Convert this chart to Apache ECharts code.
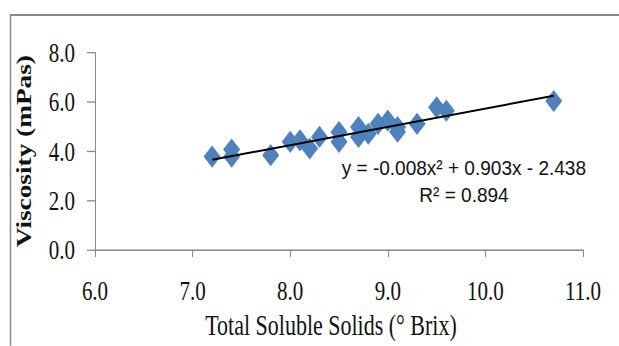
<!DOCTYPE html>
<html>
<head>
<meta charset="utf-8">
<script src="https://cdn.jsdelivr.net/npm/echarts@6/dist/echarts.min.js"></script>
<style>
html,body{margin:0;padding:0;background:#fff;overflow:hidden}
#wrap{width:619px;height:346px;overflow:hidden}
#c{width:619px;height:266.15px;transform:scaleY(1.3);transform-origin:0 0}
</style>
</head>
<body>
<div id="wrap"><div id="c"></div></div>
<script>
var brix = [7.2, 7.4, 7.4, 7.8, 8.0, 8.1, 8.2, 8.3, 8.5, 8.5, 8.7, 8.7, 8.8, 8.9, 9.0, 9.1, 9.1, 9.3, 9.5, 9.6, 10.7];
var viscosity = [3.78, 4.07, 3.78, 3.84, 4.38, 4.44, 4.11, 4.58, 4.78, 4.38, 4.98, 4.58, 4.71, 5.11, 5.24, 4.98, 4.79, 5.11, 5.78, 5.64, 6.04];
var trendX = [7.2, 10.7];
var trendY = [3.65, 6.25];
var xTicks = ['6.0', '7.0', '8.0', '9.0', '10.0', '11.0'];
var yTicks = ['0.0', '2.0', '4.0', '6.0', '8.0'];
var equationText = 'y = -0.008x² + 0.903x - 2.438';
var r2Text = 'R² = 0.894';
var xTitle = 'Total Soluble Solids (° Brix)';
var yTitle = 'Viscosity (mPas)';

var chart = echarts.init(document.getElementById('c'), null, {renderer: 'svg'});
var serif = 'Liberation Serif';
chart.setOption({
  animation: false,
  backgroundColor: '#fff',
  grid: {left: 95, right: 36, top: 40.5, bottom: 71.5, containLabel: false},
  xAxis: {
    type: 'value', min: 6, max: 11, interval: 1,
    name: xTitle, nameLocation: 'middle', nameGap: 36,
    nameTextStyle: {fontFamily: serif, fontSize: 22, color: '#111', padding: [0, 16, 0, 0]},
    axisLine: {show: true, lineStyle: {color: '#888', width: 1}},
    axisTick: {show: true, length: 5.5, lineStyle: {color: '#888'}},
    splitLine: {show: false},
    axisLabel: {fontFamily: serif, fontSize: 21, color: '#111', margin: 21,
      formatter: function (v) { return xTicks[Math.round(v - 6)]; }}
  },
  yAxis: {
    type: 'value', min: 0, max: 8, interval: 2,
    name: yTitle, nameLocation: 'middle', nameGap: 61,
    nameTextStyle: {fontFamily: serif, fontSize: 21, fontWeight: 'bold', color: '#111', padding: [0, 0, 0, 0]},
    axisLine: {show: true, lineStyle: {color: '#888', width: 1}},
    axisTick: {show: true, length: 8, lineStyle: {color: '#888'}},
    splitLine: {show: false},
    axisLabel: {fontFamily: serif, fontSize: 21, color: '#111', margin: 20,
      formatter: function (v) { return yTicks[Math.round(v / 2)]; }}
  },
  series: [
    {
      type: 'line', data: trendX.map(function (x, i) { return [x, trendY[i]]; }),
      showSymbol: false, lineStyle: {color: '#000', width: 1.5}, z: 3
    },
    {
      type: 'scatter', symbol: 'diamond', symbolSize: 17,
      data: brix.map(function (x, i) { return [x, viscosity[i]]; }),
      itemStyle: {color: '#4F81BD', opacity: 1}, z: 2
    }
  ],
  graphic: [
    {type: 'rect', shape: {x: 10.5, y: 11.5, width: 800, height: 500},
      style: {fill: 'none', stroke: '#888', lineWidth: 1.5}, silent: true},
    {type: 'text', x: 341.7, y: 128.8, scaleX: 1.19,
      style: {text: equationText, x: 0, y: 0, font: '16px "Liberation Sans"', fill: '#111',
        align: 'left', verticalAlign: 'middle'}},
    {type: 'text', x: 464, y: 150, scaleX: 1.19,
      style: {text: r2Text, x: 0, y: 0, font: '16px "Liberation Sans"', fill: '#111',
        align: 'center', verticalAlign: 'middle'}}
  ]
});
</script>
</body>
</html>
